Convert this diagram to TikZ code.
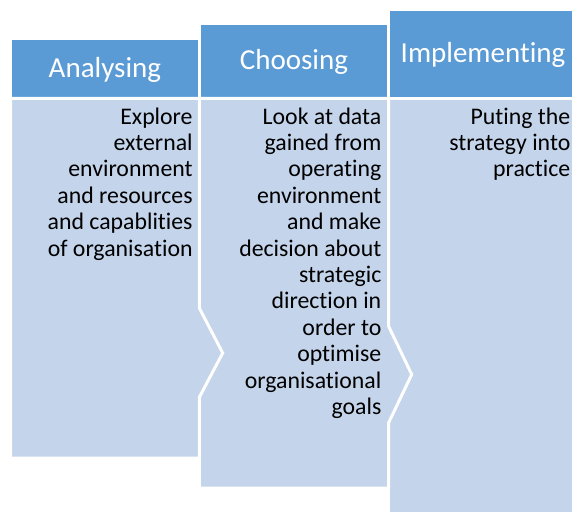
\documentclass[tikz,border=0pt]{standalone}
\usepackage{fontspec}
\setmainfont[Ligatures=NoCommon]{Carlito}
\definecolor{headblue}{HTML}{5B9BD5}
\definecolor{paneblue}{HTML}{C4D4EA}
\begin{document}
\begin{tikzpicture}[x=1pt,y=-1pt,
  headbox/.style={fill=headblue, draw=white, line width=3pt},
  panebox/.style={fill=paneblue, draw=white, line width=3pt},
  headtext/.style={text=white, inner sep=0pt, font=\fontsize{29}{34}\selectfont},
  panetext/.style={text=black, inner sep=0pt, align=right, anchor=base east,
                   font=\fontsize{23.8}{26.4}\selectfont}]
\useasboundingbox (0,0) rectangle (572,511);
\clip (0,0) rectangle (572,511);

% third stage: Implementing
\path[headbox] (388.5,9.2) rectangle (590,98.3);
\path[panebox] (388.5,98.3) rectangle (590,530);

% second stage: Choosing, with its chevron into the next body
\path[headbox] (199.3,23.5) rectangle (388.5,98.3);
\path[panebox] (199.3,98.3) -- (388.5,98.3) -- (388.5,326) -- (411.7,374.5)
  -- (388.5,423) -- (388.5,488.2) -- (199.3,488.2) -- cycle;

% first stage: Analysing
\path[headbox] (10.5,38.5) rectangle (199.3,98.3);
\path[panebox] (10.5,98.3) -- (199.3,98.3) -- (199.3,308) -- (222.7,353)
  -- (199.3,397.3) -- (199.3,458.2) -- (10.5,458.2) -- cycle;

% headings
\node[headtext] (hA) at (104.9,69.8) {Analysing};
\node[headtext] (hC) at (293.9,62.3) {Choosing};
\node[headtext] (hI) at (483,54.5) {Implementing};

% descriptions (anchored at the baseline of the last line)
\node[panetext] (tA) at (192.8,256) {Explore\\external\\environment\\and resources\\and capablities\\of organisation};
\node[panetext] (tC) at (381.5,414.4) {Look at data\\gained from\\operating\\environment\\and make\\decision about\\strategic\\direction in\\order to\\optimise\\organisational\\goals};
\node[panetext] (tI) at (570.5,176.8) {Puting the\\strategy into\\practice};
\end{tikzpicture}
\end{document}
